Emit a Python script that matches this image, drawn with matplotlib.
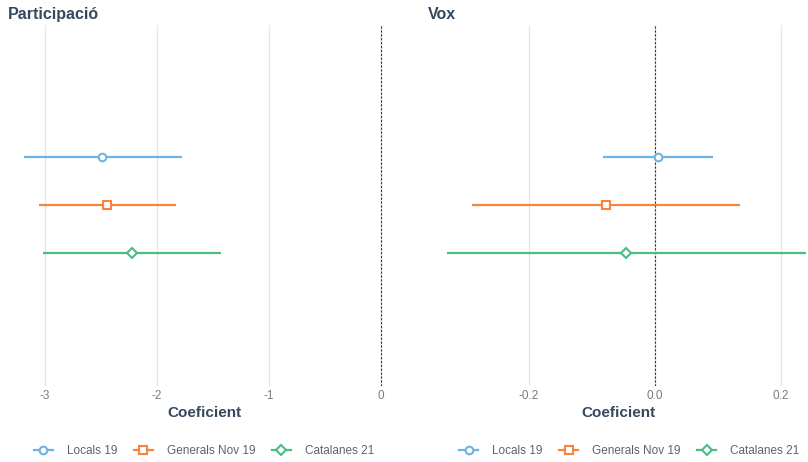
import numpy as np
import matplotlib.pyplot as plt
from matplotlib.lines import Line2D

plt.rcParams['font.family'] = ['Liberation Sans', 'DejaVu Sans']
plt.rcParams['axes.unicode_minus'] = False

# data
series = ["Locals 19", "Generals Nov 19", "Catalanes 21"]
colors = ["#6ab4e6", "#f5843d", "#4cbd82"]
markers = ["o", "s", "D"]
ypos = [1, 0, -1]

part_est = [-2.49, -2.45, -2.22]
part_lo = [-3.19, -3.05, -3.02]
part_hi = [-1.78, -1.83, -1.43]

vox_est = [0.005, -0.078, -0.046]
vox_lo = [-0.083, -0.29, -0.33]
vox_hi = [0.092, 0.135, 0.24]

title_col = "#34495e"
tick_col = "#737d86"

W, H = 808, 462
fig = plt.figure(figsize=(W / 100, H / 100), dpi=100)


def px_axes(x0, x1, y0, y1):
    return fig.add_axes([x0 / W, 1 - y1 / H, (x1 - x0) / W, (y1 - y0) / H])


def panel(ax, est, lo, hi, xlim, ticks, ticklabels, title, legx):
    for i in range(3):
        ax.plot([lo[i], hi[i]], [ypos[i], ypos[i]], color=colors[i], lw=1.6,
                solid_capstyle='butt', zorder=3)
        ax.plot(est[i], ypos[i], marker=markers[i], ms=5.5 if markers[i] != "D" else 5,
                mfc='white', mec=colors[i], mew=1.5, ls='none', zorder=4)
    ax.axvline(0, color="#333333", lw=0.8, ls=(0, (2, 1.5)), zorder=2)
    ax.set_xlim(*xlim)
    ax.set_ylim(-3.77, 3.75)
    ax.set_xticks(ticks)
    ax.set_xticklabels(ticklabels)
    ax.set_yticks([])
    ax.grid(axis='x', color="#e6e6e6", lw=0.9, zorder=0)
    ax.set_axisbelow(True)
    for s in ax.spines.values():
        s.set_visible(False)
    ax.tick_params(axis='x', length=0, labelsize=8.5, labelcolor=tick_col, pad=3)
    ax.set_xlabel("Coeficient", fontsize=11, fontweight='bold', color=title_col, labelpad=3)
    ax.set_title(title, loc='left', fontsize=11.5, fontweight='bold', color=title_col, pad=4,
                 x=0.0)
    handles = [Line2D([0], [0], color=colors[i], marker=markers[i], lw=1.6,
                      mfc='white', mec=colors[i], mew=1.5,
                      ms=5.5 if markers[i] != "D" else 5) for i in range(3)]
    leg = ax.legend(handles, series, loc='upper center', bbox_to_anchor=(legx, -0.135),
                    ncol=3, frameon=False, fontsize=8.5, handlelength=1.6,
                    columnspacing=1.4, handletextpad=1.2)
    for t in leg.get_texts():
        t.set_color("#5a646b")


ax1 = px_axes(8, 400, 25, 386)
panel(ax1, part_est, part_lo, part_hi, (-3.33, 0.17), [-3, -2, -1, 0],
      ["-3", "-2", "-1", "0"], "Participació", 0.5)

ax2 = px_axes(428, 808, 25, 386)
panel(ax2, vox_est, vox_lo, vox_hi, (-0.36, 0.243), [-0.2, 0.0, 0.2],
      ["-0.2", "0.0", "0.2"], "Vox", 0.53)

fig.savefig("out.png", dpi=100)
